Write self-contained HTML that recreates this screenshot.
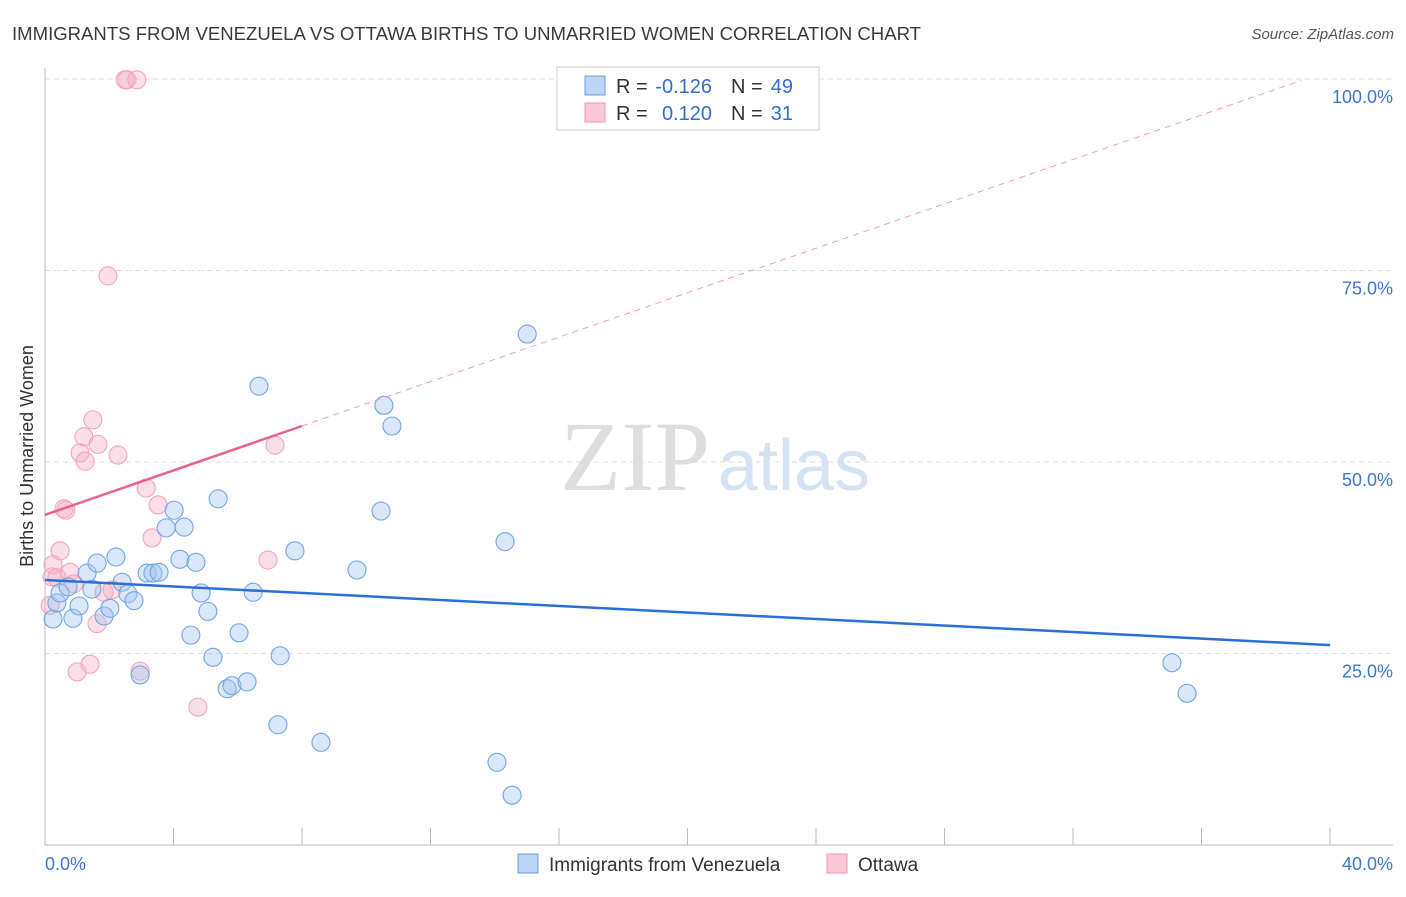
<!DOCTYPE html>
<html><head><meta charset="utf-8"><style>
body{margin:0;background:#fff;font-family:"Liberation Sans",sans-serif}
svg text{font-family:"Liberation Sans",sans-serif}
</style></head><body>
<svg width="1406" height="892">
<text x="12" y="40" font-size="18.5" fill="#3a3a3a" textLength="909" lengthAdjust="spacingAndGlyphs">IMMIGRANTS FROM VENEZUELA VS OTTAWA BIRTHS TO UNMARRIED WOMEN CORRELATION CHART</text>
<text x="1394" y="39" font-size="15" fill="#555" text-anchor="end" font-style="italic">Source: ZipAtlas.com</text>
<text x="635" y="490" font-size="100" fill="#dedede" text-anchor="middle" style="font-family:'Liberation Serif',serif">ZIP</text>
<text x="718" y="490" font-size="72" fill="#d4e2f4">atlas</text>
<g id="grid"></g><g id="axes"></g><g id="pts"></g><g id="lines"></g>
<text x="33" y="456" font-size="18" fill="#333" text-anchor="middle" transform="rotate(-90 33 456)">Births to Unmarried Women</text>
<g>
<rect x="557" y="67" width="262" height="63" fill="#fff" stroke="#ccc"/>
<rect x="585" y="76" width="20" height="19" fill="#bcd4f5" stroke="#6a9ee0"/>
<rect x="585" y="103" width="20" height="19" fill="#f9c8d7" stroke="#ee9ab5"/>
<text x="616" y="93" font-size="20" fill="#333">R =</text>
<text x="712" y="93" font-size="20" fill="#2f6fce" text-anchor="end">-0.126</text>
<text x="731" y="93" font-size="20" fill="#333">N =</text>
<text x="793" y="93" font-size="20" fill="#2f6fce" text-anchor="end">49</text>
<text x="616" y="120" font-size="20" fill="#333">R =</text>
<text x="712" y="120" font-size="20" fill="#2f6fce" text-anchor="end">0.120</text>
<text x="731" y="120" font-size="20" fill="#333">N =</text>
<text x="793" y="120" font-size="20" fill="#2f6fce" text-anchor="end">31</text>
</g>
<g>
<rect x="518" y="854" width="20" height="19" fill="#bcd4f5" stroke="#6a9ee0"/>
<text x="549" y="871" font-size="19" fill="#333">Immigrants from Venezuela</text>
<rect x="827" y="854" width="20" height="19" fill="#f9c8d7" stroke="#ee9ab5"/>
<text x="858" y="871" font-size="19" fill="#333">Ottawa</text>
</g>
</svg>
<script>
const blueX=[.25,.37,.47,.72,.87,1.06,1.31,1.46,1.62,1.84,2.02,2.21,2.40,2.58,2.77,2.96,3.18,3.36,3.55,3.77,4.02,4.20,4.33,4.54,4.70,4.86,5.07,5.23,5.39,5.67,5.82,6.04,6.29,6.48,6.66,7.25,7.32,7.78,8.59,9.71,10.46,10.55,10.80,14.07,14.32,14.54,15.01,35.08,35.55];
const blueY=[29.5,31.6,32.9,33.7,29.6,31.2,35.5,33.4,36.8,29.9,30.9,37.6,34.3,32.8,31.9,22.2,35.5,35.5,35.6,41.4,43.7,37.3,41.5,27.4,36.9,32.9,30.5,24.5,45.2,20.4,20.8,27.7,21.3,33.0,59.9,15.7,24.7,38.4,13.4,35.9,43.6,57.4,54.7,10.8,39.6,6.5,66.7,23.8,19.8];
const pinkX=[.16,.22,.25,.37,.47,.59,.65,.78,.90,1.00,1.09,1.21,1.25,1.40,1.49,1.62,1.65,1.84,1.96,2.09,2.27,2.49,2.55,2.86,2.96,3.15,3.33,3.52,4.76,6.94,7.16];
const pinkY=[31.3,35.0,36.6,34.9,38.4,43.9,43.7,35.6,34.1,22.6,51.2,53.3,50.1,23.6,55.5,28.9,52.3,33.0,74.3,33.3,50.9,99.9,99.9,99.9,22.7,46.6,40.1,44.4,18.0,37.2,52.2];
const yTicks=[25,50,75,100];
const blueTrend=[34.6,26.1];
const pinkTrend=[43.1,54.7];
const NS='http://www.w3.org/2000/svg';
const sx=v=>45+v*1285/40, sy=v=>845-v*7.66;
function mk(p,t,a){const e=document.createElementNS(NS,t);for(const k in a)e.setAttribute(k,a[k]);document.getElementById(p).appendChild(e);return e;}
yTicks.forEach(t=>{
 const l=mk('grid','line',{x1:45,x2:1393,y1:sy(t),y2:sy(t),stroke:'#ddd','stroke-dasharray':'5,4'});
 
 
 const tx=mk('grid','text',{x:1393,y:sy(t)+24,'font-size':18,fill:'#3b78d0','text-anchor':'end'});
 tx.textContent=t.toFixed(1)+'%';
 
 
});
mk('axes','line',{x1:45,x2:45,y1:68,y2:845,stroke:'#bbb'});
mk('axes','line',{x1:45,x2:1393,y1:845,y2:845,stroke:'#bbb'});
for(let i=1;i<=10;i++){mk('axes','line',{x1:sx(i*4),x2:sx(i*4),y1:828,y2:845,stroke:'#bbb'});}
const xl=mk('axes','text',{x:45,y:870,'font-size':18,fill:'#3b78d0'});xl.textContent='0.0%';


const xr=mk('axes','text',{x:1393,y:870,'font-size':18,fill:'#3b78d0','text-anchor':'end'});xr.textContent='40.0%';


pinkX.forEach((x,i)=>{const c=mk('pts','circle',{cx:sx(x),cy:sy(pinkY[i]),r:9,fill:'rgba(246,175,198,0.4)',stroke:'#f0a5be','stroke-width':1.1});
 
 });
blueX.forEach((x,i)=>{const c=mk('pts','circle',{cx:sx(x),cy:sy(blueY[i]),r:9,fill:'rgba(160,195,240,0.4)',stroke:'#74a5e3','stroke-width':1.1});
 
 });
const bl=mk('lines','line',{x1:sx(0),y1:sy(blueTrend[0]),x2:sx(40),y2:sy(blueTrend[1]),stroke:'#2b6fd6','stroke-width':2.5});


const slope=(pinkTrend[1]-pinkTrend[0])/8;
const pd=mk('lines','line',{x1:sx(8),y1:sy(pinkTrend[1]),x2:sx(39.1),y2:sy(pinkTrend[0]+slope*39.1),stroke:'#eaa0b8','stroke-width':1,'stroke-dasharray':'6,5'});


const pl=mk('lines','line',{x1:sx(0),y1:sy(pinkTrend[0]),x2:sx(8),y2:sy(pinkTrend[1]),stroke:'#e8648f','stroke-width':2.5});


</script>
</body></html>
